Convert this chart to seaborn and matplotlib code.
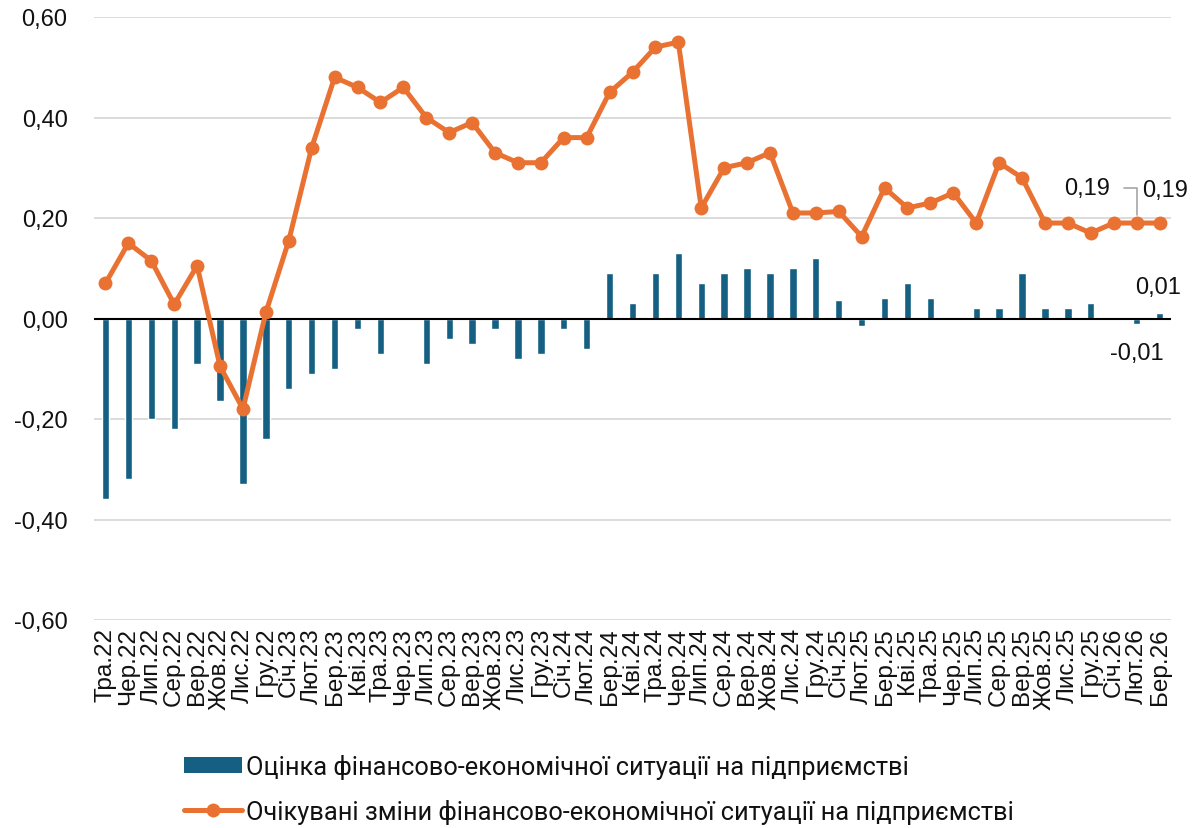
import numpy as np
import pandas as pd
import seaborn as sns
import matplotlib
matplotlib.use('Agg')
import matplotlib.pyplot as plt
from matplotlib import font_manager
from matplotlib.patches import Patch
from matplotlib.lines import Line2D
from matplotlib.ticker import FuncFormatter

# Дані
mitky = ['Тра.22', 'Чер.22', 'Лип.22', 'Сер.22', 'Вер.22', 'Жов.22', 'Лис.22', 'Гру.22',
         'Січ.23', 'Лют.23', 'Бер.23', 'Кві.23', 'Тра.23', 'Чер.23', 'Лип.23', 'Сер.23',
         'Вер.23', 'Жов.23', 'Лис.23', 'Гру.23', 'Січ.24', 'Лют.24', 'Бер.24', 'Кві.24',
         'Тра.24', 'Чер.24', 'Лип.24', 'Сер.24', 'Вер.24', 'Жов.24', 'Лис.24', 'Гру.24',
         'Січ.25', 'Лют.25', 'Бер.25', 'Кві.25', 'Тра.25', 'Чер.25', 'Лип.25', 'Сер.25',
         'Вер.25', 'Жов.25', 'Лис.25', 'Гру.25', 'Січ.26', 'Лют.26', 'Бер.26']

ocinka = [-0.36, -0.32, -0.20, -0.22, -0.09, -0.165, -0.33, -0.24,
          -0.14, -0.11, -0.10, -0.02, -0.07, 0.00, -0.09, -0.04,
          -0.05, -0.02, -0.08, -0.07, -0.02, -0.06, 0.09, 0.03,
          0.09, 0.13, 0.07, 0.09, 0.10, 0.09, 0.10, 0.12,
          0.036, -0.015, 0.04, 0.07, 0.04, 0.00, 0.02, 0.02,
          0.09, 0.02, 0.02, 0.03, 0.00, -0.01, 0.01]

ochikuvani = [0.07, 0.15, 0.115, 0.028, 0.105, -0.095, -0.18, 0.012,
              0.155, 0.34, 0.48, 0.46, 0.43, 0.46, 0.40, 0.37,
              0.39, 0.33, 0.31, 0.31, 0.36, 0.36, 0.45, 0.49,
              0.54, 0.55, 0.22, 0.30, 0.31, 0.33, 0.21, 0.21,
              0.213, 0.163, 0.26, 0.22, 0.23, 0.25, 0.19, 0.31,
              0.28, 0.19, 0.19, 0.17, 0.19, 0.19, 0.19]

nazva_1 = 'Оцінка фінансово-економічної ситуації на підприємстві'
nazva_2 = 'Очікувані зміни фінансово-економічної ситуації на підприємстві'

syniy = '#156082'
oranzh = '#E97132'

sns.set_theme(style='white')
shryfty = {f.name for f in font_manager.fontManager.ttflist}
osn = 'Liberation Sans' if 'Liberation Sans' in shryfty else 'DejaVu Sans'
vuz = 'Liberation Sans Narrow' if 'Liberation Sans Narrow' in shryfty else 'Roboto'
plt.rcParams['font.family'] = [osn, 'DejaVu Sans']

df = pd.DataFrame({'poz': np.arange(len(mitky)), 'mitka': mitky,
                   'ocinka': ocinka, 'ochikuvani': ochikuvani})

fig = plt.figure(figsize=(11.94, 8.29), dpi=100)
ax = fig.add_axes([94 / 1194, 208 / 829, 1077 / 1194, 603 / 829])

sns.barplot(data=df, x='poz', y='ocinka', native_scale=True, width=0.32,
            color=syniy, saturation=1, ax=ax, zorder=2)
sns.lineplot(data=df, x='poz', y='ochikuvani', color=oranzh, linewidth=3.6,
             marker='o', markersize=10, markeredgewidth=0, ax=ax, zorder=3)

ax.set_xlim(-0.5, len(mitky) - 0.5)
ax.set_ylim(-0.6, 0.6)
ax.set_yticks(np.arange(-0.6, 0.61, 0.2))
ax.yaxis.set_major_formatter(FuncFormatter(lambda v, p: f'{v:.2f}'.replace('.', ',')))
ax.set_xticks(df['poz'])
ax.set_xticklabels(mitky, rotation=90)
ax.tick_params(axis='y', length=0, pad=19, labelsize=17, labelcolor='#111111')
ax.tick_params(axis='x', length=0, pad=5, labelsize=17.5, labelcolor='#111111')
ax.set_xlabel('')
ax.set_ylabel('')
ax.grid(axis='y', color='#d9d9d9', linewidth=1.3, zorder=0)
ax.axhline(0, color='black', linewidth=1.5, zorder=2.5)
for s in ax.spines.values():
    s.set_visible(False)

fmt = lambda v: f'{v:.2f}'.replace('.', ',')
# підписи останніх значень
ax.annotate(fmt(ochikuvani[-2]), xy=(df['poz'].iloc[-2], ochikuvani[-2]),
            xytext=(-36, 25), textcoords='offset points', ha='center', va='center',
            fontsize=17, color='#111111',
            arrowprops=dict(arrowstyle='-', color='#a6a6a6', lw=1.2,
                            connectionstyle='angle,angleA=0,angleB=90,rad=0',
                            relpos=(1, 0.5), shrinkA=8, shrinkB=6))
ax.annotate(fmt(ochikuvani[-1]), xy=(df['poz'].iloc[-1], ochikuvani[-1]),
            xytext=(4, 24), textcoords='offset points', ha='center', va='center',
            fontsize=17, color='#111111')
ax.annotate(fmt(ocinka[-1]), xy=(df['poz'].iloc[-1], ocinka[-1]),
            xytext=(-1, 19), textcoords='offset points', ha='center', va='center',
            fontsize=17, color='#111111')
ax.annotate(fmt(ocinka[-2]), xy=(df['poz'].iloc[-2], ocinka[-2]),
            xytext=(0, -21), textcoords='offset points', ha='center', va='center',
            fontsize=17, color='#111111')

ruchky = [Patch(facecolor=syniy, edgecolor='none'),
          Line2D([0], [0], color=oranzh, linewidth=3.6, marker='o', markersize=10,
                 markeredgewidth=0)]
leg = fig.legend(ruchky, [nazva_1, nazva_2], loc='upper left',
                 bbox_to_anchor=(184 / 1194, 1 - 755 / 829), frameon=False,
                 handlelength=2.3, handleheight=0.62, handletextpad=0.12,
                 labelspacing=0.78, borderpad=0, borderaxespad=0,
                 prop={'family': [vuz, 'DejaVu Sans'], 'size': 18.3})
for t in leg.get_texts():
    t.set_color('#111111')

fig.savefig('out.png', dpi=100)
